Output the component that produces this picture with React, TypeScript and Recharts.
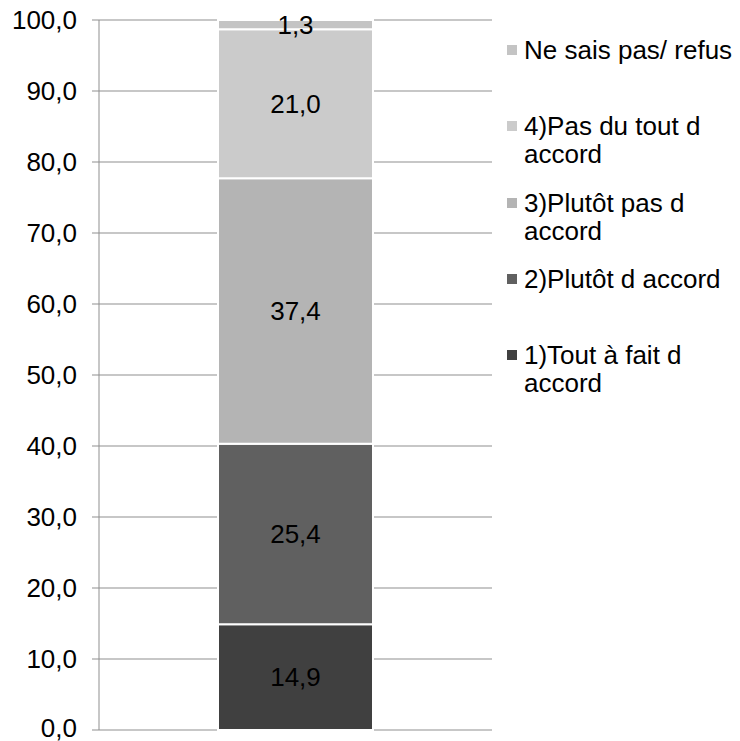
import React from 'react';
import { BarChart, Bar, XAxis, YAxis, CartesianGrid, Legend, LabelList } from 'recharts';

const categories = ['Total'];
const seriesNames = [
  '1)Tout à fait d accord',
  '2)Plutôt d accord',
  '3)Plutôt pas d accord',
  '4)Pas du tout d accord',
  'Ne sais pas/ refus',
];
const seriesValues = [[14.9], [25.4], [37.4], [21.0], [1.3]];
const seriesColors = ['#404040', '#606060', '#b4b4b4', '#cbcbcb', '#c4c4c4'];
const legendLines = [
  ['1)Tout à fait d', 'accord'],
  ['2)Plutôt d accord'],
  ['3)Plutôt pas d', 'accord'],
  ['4)Pas du tout d', 'accord'],
  ['Ne sais pas/ refus'],
];
const yTicks = [0, 10, 20, 30, 40, 50, 60, 70, 80, 90, 100];

const FONT = '"Liberation Sans", Arial, sans-serif';
const GRID = '#8f8f8f';
const FS = 26;

const data = categories.map((cat, ci) => {
  const row: Record<string, any> = { category: cat };
  seriesNames.forEach((name, si) => {
    row[`s${si}`] = seriesValues[si][ci];
  });
  return row;
});

const fmt = (v: any) => Number(v).toFixed(1).replace('.', ',');

// y tick label, the bottom one nudged up so it stays inside the picture
const YTick = ({ x, y, payload }: any) => (
  <text
    x={x}
    y={payload.value === 0 ? y - 2 : y}
    dy="0.355em"
    textAnchor="end"
    fill="#000"
    fontSize={FS}
    fontFamily={FONT}
  >
    {fmt(payload.value)}
  </text>
);

const CustomLegend = () => {
  // legend is listed top-down in reverse stack order
  const order = seriesNames.map((_, i) => i).reverse();
  return (
    <div style={{ position: 'relative', width: 233, height: 420, fontFamily: FONT }}>
      {order.map((si, pos) => (
        <div
          key={si}
          style={{
            position: 'absolute',
            left: 0,
            top: pos * 76.3,
            fontSize: FS,
            lineHeight: '28px',
            color: '#000',
          }}
        >
          <span
            style={{
              position: 'absolute',
              left: 0,
              top: 9,
              width: 10,
              height: 10,
              background: seriesColors[si],
            }}
          />
          <div style={{ marginLeft: 17, whiteSpace: 'nowrap' }}>
            {legendLines[si].map((l, k) => (
              <div key={k}>{l}</div>
            ))}
          </div>
        </div>
      ))}
    </div>
  );
};

export default function App() {
  return (
    <div style={{ position: 'absolute', left: 0, top: 0, width: 740, height: 741, background: '#fff' }}>
      <BarChart
        width={740}
        height={741}
        data={data}
        margin={{ top: 20, right: 248, bottom: 0, left: 0 }}
        style={{ fontFamily: FONT }}
      >
        <CartesianGrid vertical={false} stroke={GRID} strokeWidth={1} />
        <XAxis xAxisId="cat" dataKey="category" hide />
        <XAxis
          xAxisId="edge"
          type="number"
          domain={[0, 1]}
          ticks={[0, 1]}
          tick={false}
          tickSize={9}
          height={11}
          stroke={GRID}
          axisLine={{ stroke: GRID }}
          tickLine={{ stroke: GRID }}
        />
        <YAxis
          domain={[0, 100]}
          ticks={yTicks}
          interval={0}
          width={99}
          tickSize={7}
          tickMargin={15}
          axisLine={{ stroke: GRID }}
          tickLine={{ stroke: GRID }}
          tick={<YTick />}
        />
        <Legend
          layout="vertical"
          align="center"
          verticalAlign="middle"
          content={<CustomLegend />}
          wrapperStyle={{ left: 507, top: 36, width: 233, height: 420 }}
        />
        {seriesNames.map((name, si) => (
          <Bar
            key={name}
            xAxisId="cat"
            dataKey={`s${si}`}
            name={name}
            stackId="a"
            fill={seriesColors[si]}
            stroke="#ffffff"
            strokeWidth={2}
            barSize={155}
            isAnimationActive={false}
          >
            <LabelList
              dataKey={`s${si}`}
              position="center"
              formatter={fmt}
              style={{ fill: '#000', fontSize: FS, fontFamily: FONT }}
            />
          </Bar>
        ))}
      </BarChart>
    </div>
  );
}
